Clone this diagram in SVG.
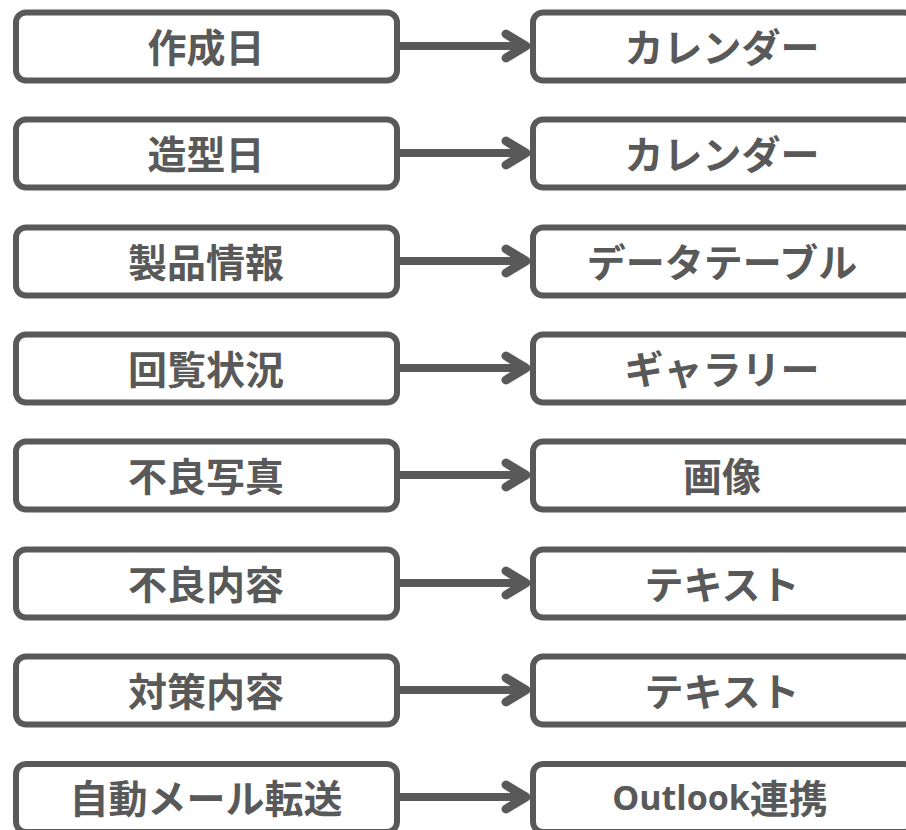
<svg xmlns="http://www.w3.org/2000/svg" width="906" height="830" viewBox="0 0 906 830">
<style>
.box{fill:#fff;stroke:#595959;stroke-width:6}
.t{font-family:"Open Sans","Noto Sans CJK JP",sans-serif;font-weight:700;font-size:39px;fill:#595959;text-anchor:middle;dominant-baseline:central}
.ln{stroke:#595959;stroke-width:8;fill:none}
.hd{stroke:#595959;stroke-width:9;fill:none;stroke-linecap:round;stroke-linejoin:round}
</style>
<rect width="906" height="830" fill="#fff"/>
<g id="connectors">
<g transform="translate(0,46)"><line class="ln" x1="400" y1="0" x2="525" y2="0"/><polyline class="hd" points="506,-12 526,0 506,12"/></g>
<g transform="translate(0,153)"><line class="ln" x1="400" y1="0" x2="525" y2="0"/><polyline class="hd" points="506,-12 526,0 506,12"/></g>
<g transform="translate(0,261)"><line class="ln" x1="400" y1="0" x2="525" y2="0"/><polyline class="hd" points="506,-12 526,0 506,12"/></g>
<g transform="translate(0,368)"><line class="ln" x1="400" y1="0" x2="525" y2="0"/><polyline class="hd" points="506,-12 526,0 506,12"/></g>
<g transform="translate(0,475)"><line class="ln" x1="400" y1="0" x2="525" y2="0"/><polyline class="hd" points="506,-12 526,0 506,12"/></g>
<g transform="translate(0,583)"><line class="ln" x1="400" y1="0" x2="525" y2="0"/><polyline class="hd" points="506,-12 526,0 506,12"/></g>
<g transform="translate(0,690)"><line class="ln" x1="400" y1="0" x2="525" y2="0"/><polyline class="hd" points="506,-12 526,0 506,12"/></g>
<g transform="translate(0,797)"><line class="ln" x1="400" y1="0" x2="525" y2="0"/><polyline class="hd" points="506,-12 526,0 506,12"/></g>
</g>
<g id="l1"><rect class="box" x="16" y="12.5" width="381" height="68" rx="10"/><text class="t" x="206" y="46">作成日</text></g>
<g id="r1"><rect class="box" x="533" y="12.5" width="381" height="68" rx="10"/><text class="t" x="722" y="46">カレンダー</text></g>
<g id="l2"><rect class="box" x="16" y="119.5" width="381" height="68" rx="10"/><text class="t" x="206" y="153">造型日</text></g>
<g id="r2"><rect class="box" x="533" y="119.5" width="381" height="68" rx="10"/><text class="t" x="722" y="153">カレンダー</text></g>
<g id="l3"><rect class="box" x="16" y="227.5" width="381" height="68" rx="10"/><text class="t" x="206" y="261">製品情報</text></g>
<g id="r3"><rect class="box" x="533" y="227.5" width="381" height="68" rx="10"/><text class="t" x="722" y="261">データテーブル</text></g>
<g id="l4"><rect class="box" x="16" y="334.5" width="381" height="68" rx="10"/><text class="t" x="206" y="368">回覧状況</text></g>
<g id="r4"><rect class="box" x="533" y="334.5" width="381" height="68" rx="10"/><text class="t" x="722" y="368">ギャラリー</text></g>
<g id="l5"><rect class="box" x="16" y="441.5" width="381" height="68" rx="10"/><text class="t" x="206" y="475">不良写真</text></g>
<g id="r5"><rect class="box" x="533" y="441.5" width="381" height="68" rx="10"/><text class="t" x="722" y="475">画像</text></g>
<g id="l6"><rect class="box" x="16" y="549.5" width="381" height="68" rx="10"/><text class="t" x="206" y="583">不良内容</text></g>
<g id="r6"><rect class="box" x="533" y="549.5" width="381" height="68" rx="10"/><text class="t" x="722" y="583">テキスト</text></g>
<g id="l7"><rect class="box" x="16" y="656.5" width="381" height="68" rx="10"/><text class="t" x="206" y="690">対策内容</text></g>
<g id="r7"><rect class="box" x="533" y="656.5" width="381" height="68" rx="10"/><text class="t" x="722" y="690">テキスト</text></g>
<g id="l8"><rect class="box" x="16" y="764" width="381" height="68" rx="10"/><text class="t" x="206" y="797">自動メール転送</text></g>
<g id="r8"><rect class="box" x="533" y="764" width="381" height="68" rx="10"/><text class="t" x="720" y="797"><tspan font-size="34px">Outlook</tspan>連携</text></g>
</svg>
